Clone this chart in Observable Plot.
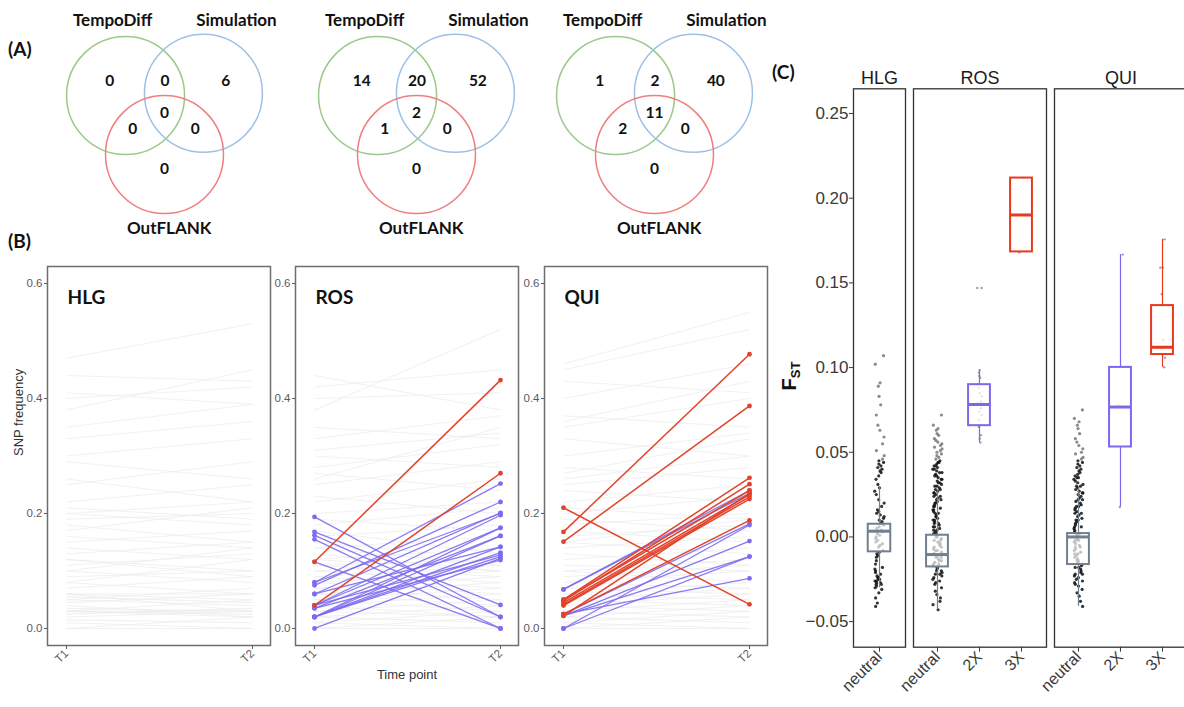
<!DOCTYPE html>
<html><head><meta charset="utf-8">
<script src="https://cdn.jsdelivr.net/npm/d3@7"></script>
<script src="https://cdn.jsdelivr.net/npm/@observablehq/plot@0.6"></script>
<style>
html,body{margin:0;padding:0;background:#fff;overflow:hidden}
#fig{position:relative;width:1184px;height:707px;overflow:hidden;background:#fff}
.lab{position:absolute;font-family:Lato,"Liberation Sans",sans-serif;font-weight:bold;font-size:19px;color:#111;line-height:1}
</style></head>
<body><div id="fig"></div>
<script>
// ---------------- DATA ----------------
// Panel A: Venn diagrams
const vennPanels = ["HLG", "ROS", "QUI"];
const vennSets = ["TempoDiff", "Simulation", "OutFLANK"];
const vennSetColors = ["#9cc98a", "#9dc0e4", "#ef7f7f"];
// region order: TempoDiff only, T∩S, Simulation only, T∩S∩O, T∩O, S∩O, OutFLANK only
const vennRegionNames = ["T", "TS", "S", "TSO", "TO", "SO", "O"];
const countsHLG = [0, 0, 6, 0, 0, 0, 0];
const countsROS = [14, 20, 52, 2, 1, 0, 0];
const countsQUI = [1, 2, 40, 11, 2, 0, 0];

// Panel B: SNP frequency at T1 / T2 ([T1, T2] pairs)
const timePoints = ["T1", "T2"];
const grayHLG = [[0,0],[0,0.02],[0.01,0],[0.02,0.03],[0.03,0.02],[0.03,0.025],[0.03,0.05],[0.035,0.03],[0.04,0.02],[0.05,0.04],[0.06,0.03],[0.06,0.05],[0.055,0.045],[0.07,0.09],[0.08,0.06],[0.09,0.1],[0.1,0.08],[0.11,0.13],[0.12,0.1],[0.13,0.15],[0.14,0.12],[0.15,0.17],[0.16,0.14],[0.18,0.15],[0.19,0.2],[0.2,0.22],[0.2,0.18],[0.21,0.19],[0.22,0.25],[0.25,0.29],[0.26,0.22],[0.3,0.33],[0.33,0.36],[0.35,0.39],[0.4,0.42],[0.41,0.39],[0.44,0.43],[0.47,0.53],[0.38,0.45],[0.29,0.26],[0.17,0.21],[0.08,0.12],[0.045,0.06],[0.025,0.035],[0.015,0.01],[0.1,0.14],[0.12,0.09],[0.05,0.07],[0.03,0.03],[0.06,0.06]];
const grayROS = [[0.44,0.38],[0.42,0.45],[0.38,0.52],[0.35,0.33],[0.33,0.37],[0.3,0.28],[0.28,0.32],[0.27,0.24],[0.25,0.29],[0.23,0.2],[0.22,0.26],[0.2,0.22],[0.19,0.17],[0.18,0.21],[0.17,0.13],[0.16,0.18],[0.15,0.12],[0.14,0.16],[0.13,0.1],[0.12,0.14],[0.11,0.09],[0.1,0.12],[0.1,0.08],[0.09,0.11],[0.09,0.07],[0.08,0.1],[0.08,0.06],[0.07,0.09],[0.07,0.05],[0.06,0.08],[0.06,0.04],[0.05,0.07],[0.05,0.03],[0.04,0.06],[0.04,0.02],[0.03,0.05],[0.03,0.02],[0.02,0.04],[0.02,0.01],[0.01,0.03],[0.01,0],[0,0.02],[0,0],[0.12,0.1],[0.11,0.12],[0.14,0.11],[0.26,0.35],[0.4,0.41],[0.31,0.34]];
const grayQUI = [[0.46,0.55],[0.45,0.52],[0.43,0.41],[0.4,0.46],[0.37,0.35],[0.35,0.4],[0.33,0.3],[0.3,0.34],[0.28,0.26],[0.26,0.3],[0.25,0.28],[0.24,0.22],[0.22,0.25],[0.21,0.19],[0.2,0.23],[0.19,0.17],[0.18,0.2],[0.17,0.15],[0.16,0.18],[0.15,0.13],[0.14,0.16],[0.13,0.11],[0.12,0.14],[0.11,0.1],[0.1,0.12],[0.1,0.08],[0.09,0.11],[0.08,0.07],[0.08,0.1],[0.07,0.06],[0.06,0.08],[0.06,0.05],[0.05,0.07],[0.05,0.04],[0.04,0.06],[0.04,0.03],[0.03,0.05],[0.03,0.02],[0.02,0.04],[0.02,0.01],[0.01,0.03],[0.01,0],[0,0.02],[0,0],[0.27,0.33],[0.36,0.43],[0.15,0.19]];
const blueROS = [[0.08,0.252],[0.075,0.22],[0.06,0.201],[0.04,0.197],[0.04,0.175],[0.035,0.161],[0.02,0.175],[0.02,0.161],[0.02,0.142],[0.02,0.132],[0,0.122],[0.04,0.128],[0.035,0.119],[0.02,0.125],[0.06,0.142],[0.08,0.2],[0.194,0.02],[0.168,0.041],[0.162,0.02],[0.155,0],[0.116,0]];
const redROS = [[0.116,0.432],[0.04,0.27]];
const blueQUI = [[0.068,0.24],[0.068,0.235],[0.025,0.182],[0.022,0.152],[0,0.125],[0,0.18],[0.025,0.087],[0.022,0.125]];
const redQUI = [[0.168,0.477],[0.151,0.387],[0.21,0.042],[0.05,0.262],[0.048,0.251],[0.045,0.233],[0.042,0.229],[0.04,0.225],[0.025,0.188],[0.05,0.24],[0.022,0.235]];
const bTicks = [0, 0.2, 0.4, 0.6];

// Panel C: FST boxplots
const cCatsHLG = ["neutral"];
const cCats = ["neutral", "2X", "3X"];
const boxPanel = ["HLG", "ROS", "ROS", "ROS", "QUI", "QUI", "QUI"];
const boxCat   = ["neutral", "neutral", "2X", "3X", "neutral", "2X", "3X"];
const boxLo    = [-0.030, -0.043, 0.0558, 0.1683, -0.041, 0.0177, 0.1002];
const boxQ1    = [-0.0088, -0.0177, 0.0657, 0.1683, -0.0163, 0.0531, 0.1077];
const boxMed   = [0.0034, -0.0104, 0.0782, 0.1901, 0.0, 0.0767, 0.1120];
const boxQ3    = [0.0075, 0.0010, 0.0899, 0.2119, 0.0020, 0.1001, 0.1366];
const boxHi    = [0.0295, 0.0275, 0.0985, 0.2119, 0.0290, 0.1667, 0.1757];
const neutralHLG = [0.107,0.102,0.091,0.089,0.083,0.078,0.072,0.066,0.063,0.059,0.055,0.051,0.048,0.046,0.045,0.044,0.043,0.042,0.041,0.040,0.039,0.038,0.036,0.034,0.031,0.029,0.027,0.025,0.022,0.020,0.018,0.016,0.015,0.014,0.013,0.012,0.011,0.010,0.009,0.008,0.007,0.006,0.005,0.004,0.003,0.002,0.001,0.000,-0.001,-0.002,-0.003,-0.004,-0.005,-0.006,-0.008,-0.009,-0.010,-0.011,-0.012,-0.014,-0.016,-0.018,-0.019,-0.020,-0.021,-0.022,-0.023,-0.024,-0.024,-0.025,-0.025,-0.026,-0.026,-0.027,-0.027,-0.028,-0.028,-0.029,-0.030,-0.031,-0.033,-0.036,-0.039,-0.041];
const neutralROS = [0.072,0.066,0.064,0.063,0.061,0.060,0.058,0.057,0.056,0.055,0.054,0.053,0.052,0.051,0.050,0.049,0.048,0.047,0.046,0.045,0.044,0.044,0.043,0.042,0.042,0.041,0.040,0.040,0.039,0.038,0.038,0.037,0.036,0.036,0.035,0.034,0.034,0.033,0.032,0.032,0.031,0.030,0.030,0.029,0.028,0.028,0.027,0.026,0.026,0.025,0.024,0.024,0.023,0.022,0.022,0.021,0.020,0.020,0.019,0.018,0.018,0.017,0.016,0.016,0.015,0.014,0.014,0.013,0.012,0.012,0.011,0.010,0.010,0.009,0.008,0.008,0.007,0.006,0.006,0.005,0.004,0.004,0.003,0.002,0.002,0.001,0.000,0.000,-0.001,-0.002,-0.002,-0.003,-0.004,-0.004,-0.005,-0.006,-0.006,-0.007,-0.008,-0.008,-0.009,-0.010,-0.010,-0.011,-0.012,-0.012,-0.013,-0.014,-0.014,-0.015,-0.016,-0.016,-0.017,-0.018,-0.018,-0.019,-0.020,-0.020,-0.021,-0.022,-0.022,-0.023,-0.024,-0.025,-0.026,-0.027,-0.028,-0.030,-0.032,-0.034,-0.036,-0.038,-0.040,-0.043];
const neutralQUI = [0.075,0.070,0.068,0.066,0.064,0.061,0.058,0.056,0.054,0.052,0.050,0.049,0.047,0.046,0.045,0.044,0.043,0.042,0.041,0.040,0.039,0.038,0.037,0.036,0.035,0.035,0.034,0.033,0.032,0.031,0.030,0.030,0.029,0.028,0.027,0.026,0.026,0.025,0.024,0.023,0.022,0.022,0.021,0.020,0.019,0.018,0.018,0.017,0.016,0.015,0.014,0.014,0.013,0.012,0.011,0.010,0.010,0.009,0.008,0.007,0.006,0.006,0.005,0.004,0.003,0.002,0.002,0.001,0.000,-0.001,-0.002,-0.002,-0.003,-0.004,-0.005,-0.006,-0.006,-0.007,-0.008,-0.009,-0.010,-0.010,-0.011,-0.012,-0.013,-0.014,-0.014,-0.015,-0.016,-0.017,-0.018,-0.018,-0.019,-0.020,-0.021,-0.022,-0.022,-0.023,-0.024,-0.025,-0.026,-0.027,-0.028,-0.029,-0.031,-0.033,-0.035,-0.038,-0.041];
const ros2X = [0.147,0.147,0.0985,0.097,0.095,0.094,0.090,0.088,0.085,0.083,0.080,0.079,0.078,0.076,0.074,0.072,0.069,0.066,0.065,0.060,0.058,0.0558];
const ros3X = [0.212, 0.168];
const qui2X = [0.1667, 0.0775, 0.0765, 0.0177];
const qui3X = [0.1757, 0.159, 0.159, 0.1434, 0.1366, 0.1164, 0.112, 0.111, 0.1077, 0.1058, 0.1002];
const cTicks = [-0.05, 0, 0.05, 0.10, 0.15, 0.20, 0.25];

// ---------------- STYLE / LAYOUT ----------------
const FONT = "Liberation Sans, Arial, sans-serif";
const BOLD = "Lato, Liberation Sans, sans-serif";
const BLUE = "#7b6cf0", RED = "#e2432a";
const catColor = {neutral: "#708090", "2X": "#7b68ee", "3X": "#e8391f"};
const fig = document.getElementById("fig");
function place(el, left, top, w) {
  const d = document.createElement("div");
  d.style.cssText = `position:absolute;left:${left}px;top:${top}px;width:${w}px`;
  d.append(el); fig.append(d);
}
function label(txt, left, top, html) {
  const d = document.createElement("div");
  d.className = "lab"; d.style.left = left + "px"; d.style.top = top + "px";
  if (html) d.innerHTML = txt; else d.textContent = txt;
  fig.append(d); return d;
}
const baseStyle = {maxWidth: "none", overflow: "visible", background: "transparent", fontFamily: FONT};

// ---------------- PANEL A ----------------
const U = 59; // circle radius in px
const vennCircles = vennSets.map((s, i) => ({set: s, color: vennSetColors[i],
  cx: [-0.66, 0.66, 0][i], cy: [-0.32, -0.36, 0.68][i],
  lx: [-0.88, 1.22, 0.08][i], ly: [-1.59, -1.59, 1.93][i]}));
const regionPos = {T: [-0.93, -0.56], TS: [0.01, -0.56], S: [1.04, -0.56], TSO: [0, -0.02], TO: [-0.54, 0.24], SO: [0.52, 0.24], O: [0, 0.92]};
function venn(counts) {
  const rows = vennRegionNames.map((r, i) => ({x: regionPos[r][0], y: regionPos[r][1], n: counts[i]}));
  return Plot.plot({
    width: 250, height: 240, margin: 0, style: baseStyle,
    x: {domain: [-125 / U, 125 / U], axis: null},
    y: {domain: [126 / U, -114 / U], axis: null},
    color: {type: "identity"},
    marks: [
      Plot.dot(vennCircles, {x: "cx", y: "cy", r: U, stroke: "color", strokeWidth: 1.5, fill: "none"}),
      Plot.text(vennCircles, {x: "lx", y: "ly", text: "set", fontWeight: "bold", fontSize: 17, fontFamily: BOLD, fill: "#111"}),
      Plot.text(rows, {x: "x", y: "y", text: "n", fontWeight: "bold", fontSize: 15.5, fontFamily: BOLD, fill: "#111"})
    ]
  });
}
place(venn(countsHLG), 39, 0, 250);
place(venn(countsROS), 291, 0, 250);
place(venn(countsQUI), 529, 0, 250);

// ---------------- PANEL B ----------------
function panelB(name, gray, blue, red, marginLeft, extra) {
  const link = (data, opts) => Plot.link(data, {x1: () => timePoints[0], x2: () => timePoints[1], y1: d => d[0], y2: d => d[1], ...opts});
  const ends = (data, fill) => [
    Plot.dot(data, {x: () => timePoints[0], y: d => d[0], r: 2.4, fill, stroke: "none"}),
    Plot.dot(data, {x: () => timePoints[1], y: d => d[1], r: 2.4, fill, stroke: "none"})
  ];
  return Plot.plot({
    width: marginLeft + 223, height: 450, marginTop: 16, marginBottom: 55, marginLeft, marginRight: 0,
    style: baseStyle,
    x: {type: "point", domain: timePoints, padding: 0.098},
    y: {domain: [-0.0296, 0.6296]},
    marks: [
      link(gray, {stroke: "#ececec", strokeWidth: 1.1, strokeOpacity: 0.75}),
      link(blue, {stroke: BLUE, strokeWidth: 1.3, strokeOpacity: 0.9}),
      link(red, {stroke: RED, strokeWidth: 1.5}),
      ...ends(blue, BLUE), ...ends(red, RED),
      Plot.frame({stroke: "#6e6e6e", strokeWidth: 1.5}),
      Plot.axisY({ticks: bTicks, tickFormat: d3.format(".1f"), tickSize: 3, tickPadding: 2, fontSize: 11.5, color: "#5a5a5a", label: null}),
      Plot.axisX({tickRotate: -45, tickSize: 4, tickPadding: 2, fontSize: 11.5, color: "#5a5a5a", label: null}),
      Plot.text([name], {text: d => d, frameAnchor: "top-left", dx: 20, dy: 24, fontWeight: "bold", fontSize: 19, fontFamily: BOLD, fill: "#111"}),
      ...extra
    ]
  });
}
place(panelB("HLG", grayHLG, [], [], 47, [
  Plot.text(["SNP frequency"], {text: d => d, frameAnchor: "left", dx: -29, rotate: -90, fontSize: 13, fill: "#333"})
]), 0, 250, 270);
place(panelB("ROS", grayROS, blueROS, redROS, 25, [
  Plot.text(["Time point"], {text: d => d, frameAnchor: "bottom", dy: 33, fontSize: 13, fill: "#333"})
]), 270, 250, 248);
place(panelB("QUI", grayQUI, blueQUI, redQUI, 25, []), 519, 250, 248);

// ---------------- PANEL C ----------------
const boxes = boxPanel.map((p, k) => ({panel: p, cat: boxCat[k], lo: boxLo[k], q1: boxQ1[k], med: boxMed[k], q3: boxQ3[k], hi: boxHi[k]}));
// deterministic horizontal jitter (position only)
const jit = (k, w) => { const s = Math.sin((k + 1) * 12.9898) * 43758.5453; return (s - Math.floor(s) - 0.5) * w; };
function panelC(name, cats, groups, width, marginLeft, xdom, withY) {
  const bx = boxes.filter(b => b.panel === name).map(b => ({...b, i: cats.indexOf(b.cat), color: catColor[b.cat]}));
  const pts = [];
  groups.forEach((vals, gi) => vals.forEach((v, j) => pts.push({i: gi, v, k: j, neutral: gi === 0})));
  const hw = 0.26;
  return Plot.plot({
    width, height: 657, marginTop: 38.3, marginBottom: 60.3, marginLeft, marginRight: 0,
    style: baseStyle,
    x: {domain: xdom},
    y: {domain: [-0.0651, 0.2646], axis: withY ? undefined : null},
    color: {type: "identity"},
    marks: [
      Plot.dot(pts.filter(d => d.neutral), {x: d => d.i + jit(d.k, 0.22), y: "v", r: 1.6, fill: d => d.v > 0.045 ? "#777" : "#111", fillOpacity: 0.85, stroke: "none"}),
      Plot.dot(pts.filter(d => !d.neutral), {x: d => d.i + jit(d.k, 0.12), y: "v", r: 1.2, fill: "#666", fillOpacity: 0.6, stroke: "none"}),
      Plot.ruleX(bx, {x: "i", y1: "lo", y2: "q1", stroke: "color", strokeWidth: 1.2}),
      Plot.ruleX(bx, {x: "i", y1: "q3", y2: "hi", stroke: "color", strokeWidth: 1.2}),
      Plot.rect(bx, {x1: d => d.i - hw, x2: d => d.i + hw, y1: "q1", y2: "q3", fill: "white", fillOpacity: 0.72, stroke: "color", strokeWidth: 2}),
      Plot.ruleY(bx, {x1: d => d.i - hw, x2: d => d.i + hw, y: "med", stroke: "color", strokeWidth: 3}),
      Plot.frame({stroke: "#333", strokeWidth: 1.3}),
      withY ? Plot.axisY({ticks: cTicks, tickFormat: d3.format(".2f"), tickSize: 4, tickPadding: 1, fontSize: 17, color: "#3a3a3a", label: null}) : null,
      Plot.axisX({ticks: d3.range(cats.length), tickFormat: i => cats[i], tickRotate: -45, tickSize: 5, tickPadding: 2, fontSize: 16, color: "#3a3a3a", label: null}),
      Plot.text([name], {text: d => d, frameAnchor: "top", dy: -18, fontSize: 18, fill: "#1a1a1a"})
    ]
  });
}
place(panelC("HLG", cCatsHLG, [neutralHLG], 135, 83, [-0.6, 0.6], true), 770, 50, 135);
place(panelC("ROS", cCats, [neutralROS, ros2X, ros3X], 133, 0, [-0.571, 2.595], false), 913, 50, 133);
place(panelC("QUI", cCats, [neutralQUI, qui2X, qui3X], 133, 0, [-0.571, 2.595], false), 1054, 50, 133);

// ---------------- LABELS ----------------
label("(A)", 8, 39);
label("(B)", 8, 231);
label("(C)", 772, 62);
const fst = label('F<sub style="font-size:13px;vertical-align:-4px">ST</sub>', 790, 376, true);
fst.style.fontFamily = FONT; fst.style.fontSize = "20px";
fst.style.transform = "translate(-50%,-50%) rotate(-90deg)";
</script></body></html>
